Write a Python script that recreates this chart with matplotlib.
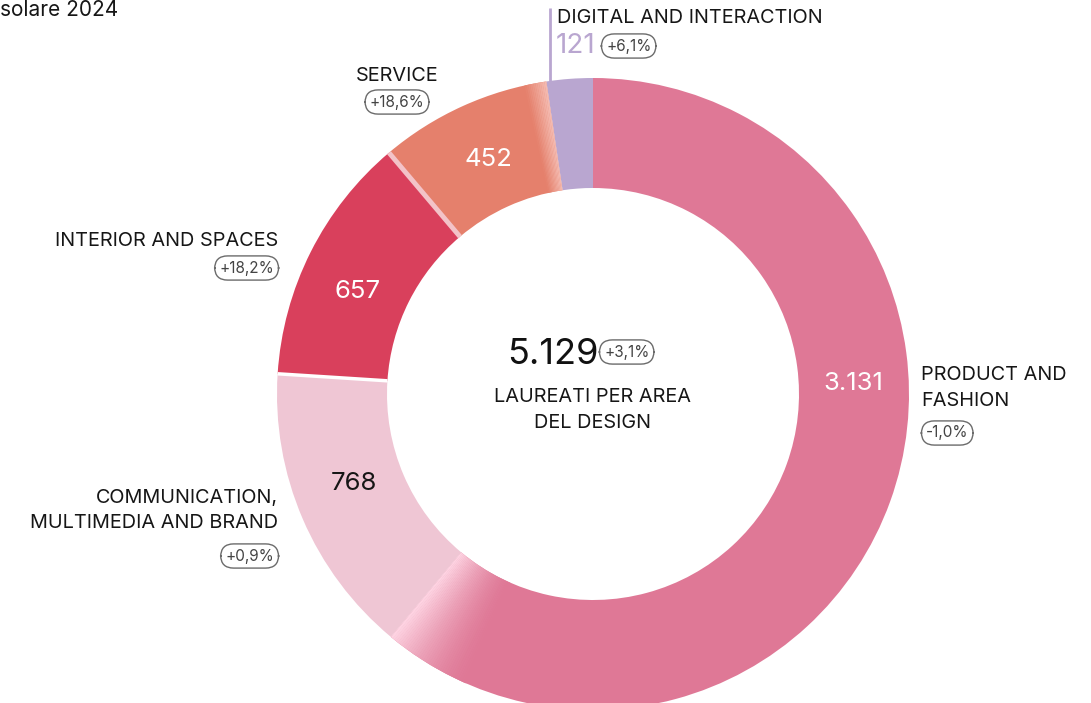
import numpy as np
import matplotlib
matplotlib.use("Agg")
import matplotlib.pyplot as plt
from matplotlib.patches import Wedge
from matplotlib.colors import to_rgb

plt.rcParams["font.family"] = ["Inter", "DejaVu Sans"]

# Graduates per design area (clockwise from the top)
areas = ["PRODUCT AND\nFASHION", "COMMUNICATION,\nMULTIMEDIA AND BRAND",
         "INTERIOR AND SPACES", "SERVICE", "DIGITAL AND INTERACTION"]
graduates = [3131, 768, 657, 452, 121]
changes = ["-1,0%", "+0,9%", "+18,2%", "+18,6%", "+6,1%"]
value_labels = ["3.131", "768", "657", "452", "121"]
colors = ["#df7896", "#efc6d4", "#d9405c", "#e5806c", "#b9a6d0"]
total_label = "5.129"
total_change = "+3,1%"

W, H = 1091, 703
fig = plt.figure(figsize=(W / 100, H / 100), dpi=100)
ax = fig.add_axes([0, 0, 1, 1])

cx, cy = 593, H - 394
r_out, r_in = 316, 206
ring = r_out - r_in

wedges, _ = ax.pie(graduates, colors=colors, startangle=90, counterclock=False,
                   radius=r_out, center=(cx, cy),
                   wedgeprops=dict(width=ring, linewidth=0))

# soft fade at the start of the product band, blending into the communication band
prod = wedges[0]
c0 = np.array(to_rgb(colors[1]))
c1 = np.array(to_rgb(colors[0]))
fade = 16
n = 40
for i in range(n):
    a0 = prod.theta1 + fade * i / n
    a1 = prod.theta1 + fade * (i + 1) / n + 0.1
    t = (i + 0.5) / n
    col = c0 * (1 - t) ** 1.5 + c1 * (1 - (1 - t) ** 1.5)
    col = np.clip(col + 0.06 * (1 - t) * (1 - t), 0, 1)
    ax.add_patch(Wedge((cx, cy), r_out, a0, a1, width=ring, color=col, lw=0))

# light fade on the service band next to digital
serv = wedges[3]
c2 = np.array(to_rgb(colors[3]))
for i in range(12):
    a0 = serv.theta1 + 4 * i / 12
    a1 = serv.theta1 + 4 * (i + 1) / 12 + 0.05
    t = (i + 0.5) / 12
    col = c2 * t + np.array([0.96, 0.74, 0.70]) * (1 - t)
    ax.add_patch(Wedge((cx, cy), r_out, a0, a1, width=ring, color=col, lw=0))

# thin separators
def separator(angle, color, lw):
    a = np.deg2rad(angle)
    ax.plot([cx + r_in * np.cos(a), cx + r_out * np.cos(a)],
            [cy + r_in * np.sin(a), cy + r_out * np.sin(a)],
            color=color, lw=lw, solid_capstyle="butt")

separator(wedges[1].theta1, "white", 2.5)
separator(wedges[2].theta1, "#f3c3c8", 3.5)

pill = dict(boxstyle="round,pad=0.3,rounding_size=0.85", fc="white",
            ec="#6b6b6b", lw=1.0)
txt = "#161616"
gray = "#444444"
lab = 14.3
pfs = 11
vfs = 18.5
ls = 1.5

def Y(py):
    return H - py

# values inside the ring
ax.text(853, Y(384), value_labels[0], color="white", fontsize=vfs, ha="center", va="center")
ax.text(354, Y(483), value_labels[1], color=txt, fontsize=vfs, ha="center", va="center")
ax.text(358, Y(292), value_labels[2], color="white", fontsize=vfs, ha="center", va="center")
ax.text(488, Y(160), value_labels[3], color="white", fontsize=vfs, ha="center", va="center")

# area labels
ax.text(921, Y(388), areas[0], color=txt, fontsize=lab, ha="left", va="center",
        linespacing=ls)
ax.text(926, Y(433), changes[0], color=gray, fontsize=pfs, ha="left", va="center", bbox=pill)

ax.text(278, Y(511), areas[1], color=txt, fontsize=lab, ha="right", va="center",
        linespacing=ls, multialignment="right")
ax.text(274, Y(556), changes[1], color=gray, fontsize=pfs, ha="right", va="center", bbox=pill)

ax.text(278, Y(241), areas[2], color=txt, fontsize=lab, ha="right", va="center")
ax.text(274, Y(268), changes[2], color=gray, fontsize=pfs, ha="right", va="center", bbox=pill)

ax.text(397, Y(76), areas[3], color=txt, fontsize=lab, ha="center", va="center")
ax.text(397, Y(102), changes[3], color=gray, fontsize=pfs, ha="center", va="center", bbox=pill)

# digital label with leader line
ax.plot([550, 550], [Y(8), Y(86)], color=colors[4], lw=2, solid_capstyle="butt")
ax.text(557, Y(18), areas[4], color=txt, fontsize=lab, ha="left", va="center")
ax.text(556, Y(46), value_labels[4], color=colors[4], fontsize=20, ha="left", va="center")
ax.text(606, Y(46), changes[4], color=gray, fontsize=pfs, ha="left", va="center", bbox=pill)

# total in the centre
ax.text(553, Y(354), total_label, color="#111111", fontsize=26, ha="center", va="center")
ax.text(604, Y(352), total_change, color=gray, fontsize=pfs, ha="left", va="center", bbox=pill)
ax.text(593, Y(410), "LAUREATI PER AREA\nDEL DESIGN", color=txt, fontsize=lab,
        ha="center", va="center", linespacing=ls)

ax.text(0, Y(10), "solare 2024", color=txt, fontsize=15, ha="left", va="center")

ax.set_xlim(0, W)
ax.set_ylim(0, H)
ax.set_aspect("auto")
ax.axis("off")
fig.savefig("out.png", dpi=100)
